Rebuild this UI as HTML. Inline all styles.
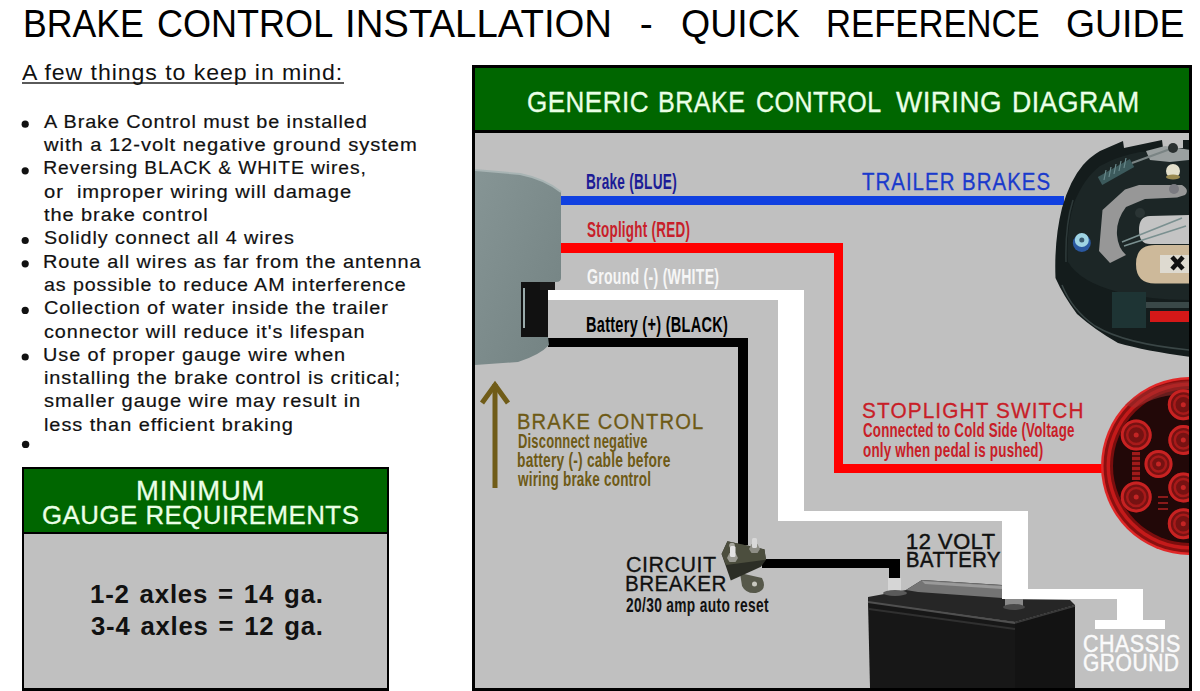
<!DOCTYPE html>
<html><head><meta charset="utf-8"><title>Brake Control Installation - Quick Reference Guide</title>
<style>
html,body{margin:0;padding:0;background:#fff;width:1200px;height:691px;overflow:hidden;position:relative}
.t{position:absolute;font-family:"Liberation Sans",sans-serif;line-height:1;white-space:pre;transform-origin:0 0}
svg{position:absolute;left:0;top:0}
</style></head><body>
<svg width="1200" height="691" viewBox="0 0 1200 691">
<defs>
<linearGradient id="dg" x1="0" y1="0" x2="1" y2="1"><stop offset="0" stop-color="#869595"/><stop offset="1" stop-color="#738282"/></linearGradient>
<clipPath id="pc"><rect x="475" y="133" width="714" height="555"/></clipPath>
</defs>
<!-- subtitle underline -->
<rect x="22" y="82" width="322" height="2" fill="#5a5a5a"/>
<!-- bullets -->
<g fill="#111">
<circle cx="25.2" cy="124.2" r="3.6"/>
<circle cx="25.2" cy="170.8" r="3.6"/>
<circle cx="25.2" cy="240.5" r="3.6"/>
<circle cx="25.2" cy="263.8" r="3.6"/>
<circle cx="25.2" cy="310.4" r="3.6"/>
<circle cx="25.2" cy="357" r="3.6"/>
<circle cx="25.6" cy="444.4" r="3.7"/>
</g>
<!-- gauge box -->
<rect x="22" y="467" width="367" height="224" fill="#000"/>
<rect x="24" y="469" width="363" height="63" fill="#006600"/>
<rect x="24" y="534" width="363" height="154" fill="#c0c0c0"/>
<!-- diagram panel -->
<rect x="472" y="65" width="720" height="626" fill="#000"/>
<rect x="475" y="68" width="714" height="62" fill="#006600"/>
<rect x="475" y="133" width="714" height="555" fill="#c0c0c0"/>
<g clip-path="url(#pc)">
<!-- wires -->
<rect x="561" y="196" width="503" height="9" fill="#1040e0"/>
<g fill="#ff0000">
<rect x="561" y="243" width="282" height="10"/>
<rect x="834" y="243" width="9" height="230"/>
<rect x="834" y="464" width="268" height="9"/>
</g>
<g fill="#ffffff">
<rect x="545" y="290" width="259" height="10"/>
<rect x="778" y="290" width="26" height="231"/>
<rect x="778" y="511" width="250" height="10"/>
<rect x="1002" y="511" width="26" height="88"/>
<rect x="1002" y="589" width="141" height="10"/>
<rect x="1117" y="589" width="26" height="32"/>
<rect x="1095" y="620" width="70" height="9"/>
</g>
<g fill="#000">
<rect x="548" y="338" width="200" height="9"/>
<rect x="738" y="338" width="10" height="207"/>
<rect x="762" y="559" width="138" height="9"/>
<rect x="889" y="559" width="11" height="21"/>
</g>
<!-- brake control device -->
<path d="M475,170 L520,174 Q545,179 561,192 L561,278 Q561,282 556,282 L521,282 L521,337 L548,337 L549,345 Q540,355 518,362 L475,365 Z" fill="url(#dg)"/>
<path d="M475,170 L520,174 Q545,179 561,192" fill="none" stroke="#a8b4b4" stroke-width="2"/>
<rect x="521" y="282" width="27" height="55" fill="#111"/>
<rect x="540" y="282" width="15" height="8" fill="#1a1a1a"/>
<rect x="523" y="288" width="2" height="40" fill="#9aa"/>
<!-- arrow -->
<g stroke="#705c18" stroke-width="5" fill="none">
<line x1="495" y1="384" x2="495" y2="488"/>
<polyline points="482,403 495,385 508,403" stroke-linejoin="miter"/>
</g>
<!-- circuit breaker -->
<g>
<path d="M740,573 L762,578 Q768,590 756,593 Q746,594 742,586 Z" fill="#56584a"/>
<circle cx="754.5" cy="584" r="2.5" fill="#c8c8c0"/>
<polygon points="721.6,553.9 727.4,541.2 764.4,549.3 766,559.7 761,566.7 730.8,580.5" fill="#2c2e26"/>
<polygon points="721.6,553.9 727.4,541.2 764.4,549.3 766,559.7 726,565" fill="#4c4e3e"/>
<circle cx="732" cy="545.5" r="2.8" fill="#a8a8a0"/>
<polygon points="727,558 729.5,553 735.5,553 738,558 735.5,562 729.5,562" fill="#9a9a92"/>
<rect x="730" y="546" width="5.5" height="11" rx="1.5" fill="#e2e2e2"/>
<polygon points="749,549 751.5,544 757.5,544 760,549 757.5,553 751.5,553" fill="#8e8e86"/>
<rect x="752" y="538" width="5" height="10" rx="1.5" fill="#d8d8d8"/>
</g>
<!-- battery -->
<g>
<polygon points="868,597 906,590 922,580 1002,585 1002,599 1070,600 1075,605 1015,622 868,602" fill="#262626"/>
<polygon points="868,602 1015,622 1015,688 870,688" fill="#171717"/>
<polygon points="1015,622 1075,605 1075,688 1015,688" fill="#131313"/>
<polygon points="906,590 922,580 1002,585 1002,598 918,592" fill="#747474"/>
<polygon points="922,581 1002,586 1002,589 925,584" fill="#9a9a9a"/>
<line x1="868" y1="602" x2="1015" y2="623" stroke="#505050" stroke-width="2"/>
<line x1="869" y1="609" x2="1015" y2="629" stroke="#303030" stroke-width="2"/>
<line x1="1015" y1="623" x2="1075" y2="606" stroke="#3a3a3a" stroke-width="1.5"/>
<rect x="888" y="578" width="13" height="14" fill="#d6d6d6"/>
<ellipse cx="895" cy="593" rx="12" ry="3" fill="#5a5a5a"/>
<rect x="1005" y="599" width="18" height="8" fill="#8a8a8a"/>
<ellipse cx="1014" cy="607" rx="11" ry="3" fill="#4a4a4a"/>
</g>
<!-- stoplight -->
<g>
<circle cx="1190" cy="466" r="89" fill="#e02828"/>
<circle cx="1190" cy="466" r="86.5" fill="#8a1010"/>
<circle cx="1190" cy="466" r="83.5" fill="#c41a1a"/>
<circle cx="1190" cy="466" r="80" fill="#7a0e0e"/>
<circle cx="1190" cy="466" r="77" fill="#220808"/>
<path d="M1125,405 Q1150,383 1190,381 L1190,394 Q1160,393 1135,408 Z" fill="#a03030" opacity="0.55"/>
<circle cx="1136.2" cy="435.1" r="15.5" fill="#761212"/>
<circle cx="1136.2" cy="435.1" r="14.0" fill="none" stroke="#c82222" stroke-width="3"/>
<circle cx="1136.2" cy="435.1" r="9.0" fill="none" stroke="#a81a1a" stroke-width="2.5"/>
<circle cx="1136.2" cy="435.1" r="2.5" fill="#c42424"/>
<circle cx="1158.5" cy="464" r="14" fill="#761212"/>
<circle cx="1158.5" cy="464" r="12.5" fill="none" stroke="#c82222" stroke-width="3"/>
<circle cx="1158.5" cy="464" r="7.5" fill="none" stroke="#a81a1a" stroke-width="2.5"/>
<circle cx="1158.5" cy="464" r="2.5" fill="#c42424"/>
<circle cx="1136.2" cy="496.9" r="15.5" fill="#761212"/>
<circle cx="1136.2" cy="496.9" r="14.0" fill="none" stroke="#c82222" stroke-width="3"/>
<circle cx="1136.2" cy="496.9" r="9.0" fill="none" stroke="#a81a1a" stroke-width="2.5"/>
<circle cx="1136.2" cy="496.9" r="2.5" fill="#c42424"/>
<circle cx="1183.3" cy="404.7" r="15.5" fill="#761212"/>
<circle cx="1183.3" cy="404.7" r="14.0" fill="none" stroke="#c82222" stroke-width="3"/>
<circle cx="1183.3" cy="404.7" r="9.0" fill="none" stroke="#a81a1a" stroke-width="2.5"/>
<circle cx="1183.3" cy="404.7" r="2.5" fill="#c42424"/>
<circle cx="1183.3" cy="440" r="15" fill="#761212"/>
<circle cx="1183.3" cy="440" r="13.5" fill="none" stroke="#c82222" stroke-width="3"/>
<circle cx="1183.3" cy="440" r="8.5" fill="none" stroke="#a81a1a" stroke-width="2.5"/>
<circle cx="1183.3" cy="440" r="2.5" fill="#c42424"/>
<circle cx="1183.3" cy="487.5" r="15" fill="#761212"/>
<circle cx="1183.3" cy="487.5" r="13.5" fill="none" stroke="#c82222" stroke-width="3"/>
<circle cx="1183.3" cy="487.5" r="8.5" fill="none" stroke="#a81a1a" stroke-width="2.5"/>
<circle cx="1183.3" cy="487.5" r="2.5" fill="#c42424"/>
<circle cx="1183.3" cy="523.7" r="15.5" fill="#761212"/>
<circle cx="1183.3" cy="523.7" r="14.0" fill="none" stroke="#c82222" stroke-width="3"/>
<circle cx="1183.3" cy="523.7" r="9.0" fill="none" stroke="#a81a1a" stroke-width="2.5"/>
<circle cx="1183.3" cy="523.7" r="2.5" fill="#c42424"/>
<rect x="1132" y="452" width="8" height="28" fill="#a01a1a"/>
<path d="M1132,456 H1140 M1132,461 H1140 M1132,466 H1140 M1132,471 H1140 M1132,476 H1140" stroke="#3a0808" stroke-width="1.5"/>
<path d="M1158,497 H1168 M1158,503 H1168 M1158,509 H1168" stroke="#8a1a1a" stroke-width="2"/>
</g>
<!-- brake drum -->
<g>
<path d="M1100,151 L1123,141 L1124,148 L1162,140 L1163,148 L1183,148 L1183,140 L1190,140 L1190,357 Q1146,351 1118,343 Q1095,330 1077,314 Q1063,295 1055.5,278 Q1054,240 1062,208 Q1070,180 1083,165 Q1090,157 1100,151 Z" fill="#141c1c"/>
<path d="M1068,262 Q1066,228 1074,203 Q1084,178 1100,166 Q1118,156 1140,152 L1190,150 L1190,300 Q1150,300 1118,292 Q1080,282 1068,262 Z" fill="#1c2626"/>
<path d="M1062,285 Q1072,310 1095,326 Q1125,344 1190,350" fill="none" stroke="#3a4646" stroke-width="1.5"/>
<path d="M1066,262 Q1065,225 1073,200" fill="none" stroke="#2e3a3a" stroke-width="1.5"/>
<rect x="1112" y="292" width="34" height="36" fill="#1e3434"/>
<rect x="1146" y="302" width="44" height="6" fill="#3a4848"/>
<rect x="1150" y="311" width="40" height="11" fill="#d41818"/>
<path d="M1146,151 L1165,146 L1190,150 L1190,160 L1170,162 L1150,160 Z" fill="#9aa0a0"/>
<path d="M1100,181 L1132,163" stroke="#3c5a5c" stroke-width="9"/>
<path d="M1104,180 L1106,170 M1109,177 L1111,167 M1114,174 L1116,164 M1119,171 L1121,161 M1124,168 L1126,158" stroke="#6a8a8c" stroke-width="1.2"/>
<path d="M1132,163 L1173,148" stroke="#7a8484" stroke-width="2"/>
<circle cx="1173" cy="148" r="5" fill="#2a3030"/>
<path d="M1102.5,210 L1125,189.5 L1139,185 L1182,185 Q1190,190 1185,195 L1177,197.5 L1145,199 L1126,207 Q1116,220 1117,235 Q1118,248 1126,255 L1110,263 L1099,251 Z" fill="#979797"/>
<circle cx="1174" cy="189" r="5" fill="#7a7a80"/>
<path d="M1150,216 L1190,215 L1190,244 L1150,244 Q1139,244 1139,230 Q1139,216 1150,216 Z" fill="#c4c4c4"/>
<path d="M1122,242 L1182,218 M1124,246 L1186,226" stroke="#7a9090" stroke-width="1.5"/>
<circle cx="1140" cy="213" r="5" fill="#2a3434"/>
<circle cx="1173" cy="171" r="7" fill="#e4e0cc"/>
<ellipse cx="1173" cy="177" rx="7" ry="2.5" fill="#9a8a50"/>
<path d="M1155,245 L1190,245 L1190,283.5 L1155,283.5 Q1136,283.5 1136,264 Q1136,245 1155,245 Z" fill="#cdb99a"/>
<rect x="1160" y="255" width="30" height="18" fill="#dedad0"/>
<path d="M1172,257 L1183,269 M1183,257 L1172,269" stroke="#111" stroke-width="4.5"/>
<circle cx="1081.8" cy="243" r="9" fill="#2a58a0"/>
<circle cx="1081.8" cy="240" r="7" fill="#9fd4e4"/>
<circle cx="1081.8" cy="240" r="2.5" fill="#3a5a70"/>
</g>
</g>
</g>
</svg>


<div class="t" style="left:23.18px;top:4.44px;font-size:39.130px;font-weight:normal;color:#000;transform:scaleX(0.9100);">BRAKE</div><div class="t" style="left:157.38px;top:4.44px;font-size:39.130px;font-weight:normal;color:#000;transform:scaleX(0.9211);">CONTROL</div><div class="t" style="left:345.36px;top:4.44px;font-size:39.130px;font-weight:normal;color:#000;transform:scaleX(0.9801);">INSTALLATION</div><div class="t" style="left:639.70px;top:4.44px;font-size:39.130px;font-weight:normal;color:#000;CAPH">-</div><div class="t" style="left:680.74px;top:4.44px;font-size:39.130px;font-weight:normal;color:#000;transform:scaleX(0.9593);">QUICK</div><div class="t" style="left:825.73px;top:4.44px;font-size:39.130px;font-weight:normal;color:#000;transform:scaleX(0.8857);">REFERENCE</div><div class="t" style="left:1065.74px;top:4.44px;font-size:39.130px;font-weight:normal;color:#000;transform:scaleX(0.9557);">GUIDE</div><div class="t" style="left:22.10px;top:61.73px;font-size:22.319px;font-weight:normal;color:#111;transform:scaleX(1.0364);letter-spacing:0.9px;">A few things to keep in mind:</div><div class="t" style="left:44.20px;top:111.82px;font-size:19.275px;font-weight:normal;color:#111;transform:scaleX(1.0290);-webkit-text-stroke:0.2px currentColor;letter-spacing:0.9px;">A Brake Control must be installed</div><div class="t" style="left:44.20px;top:135.12px;font-size:19.275px;font-weight:normal;color:#111;transform:scaleX(1.0478);-webkit-text-stroke:0.2px currentColor;letter-spacing:0.9px;">with a 12-volt negative ground system</div><div class="t" style="left:43.20px;top:158.42px;font-size:19.275px;font-weight:normal;color:#111;-webkit-text-stroke:0.2px currentColor;letter-spacing:0.9px;">Reversing BLACK &amp; WHITE wires,</div><div class="t" style="left:44.20px;top:181.72px;font-size:19.275px;font-weight:normal;color:#111;transform:scaleX(1.0459);-webkit-text-stroke:0.2px currentColor;letter-spacing:0.9px;">or  improper wiring will damage</div><div class="t" style="left:44.20px;top:205.02px;font-size:19.275px;font-weight:normal;color:#111;transform:scaleX(1.0367);-webkit-text-stroke:0.2px currentColor;letter-spacing:0.9px;">the brake control</div><div class="t" style="left:44.20px;top:228.32px;font-size:19.275px;font-weight:normal;color:#111;transform:scaleX(1.0238);-webkit-text-stroke:0.2px currentColor;letter-spacing:0.9px;">Solidly connect all 4 wires</div><div class="t" style="left:43.17px;top:251.62px;font-size:19.275px;font-weight:normal;color:#111;transform:scaleX(1.0340);-webkit-text-stroke:0.2px currentColor;letter-spacing:0.9px;">Route all wires as far from the antenna</div><div class="t" style="left:44.20px;top:274.92px;font-size:19.275px;font-weight:normal;color:#111;transform:scaleX(1.0192);-webkit-text-stroke:0.2px currentColor;letter-spacing:0.9px;">as possible to reduce AM interference</div><div class="t" style="left:44.20px;top:298.22px;font-size:19.275px;font-weight:normal;color:#111;transform:scaleX(1.0323);-webkit-text-stroke:0.2px currentColor;letter-spacing:0.9px;">Collection of water inside the trailer</div><div class="t" style="left:44.20px;top:321.52px;font-size:19.275px;font-weight:normal;color:#111;transform:scaleX(1.0283);-webkit-text-stroke:0.2px currentColor;letter-spacing:0.9px;">connector will reduce it&#x27;s lifespan</div><div class="t" style="left:43.17px;top:344.82px;font-size:19.275px;font-weight:normal;color:#111;transform:scaleX(1.0315);-webkit-text-stroke:0.2px currentColor;letter-spacing:0.9px;">Use of proper gauge wire when</div><div class="t" style="left:44.20px;top:368.12px;font-size:19.275px;font-weight:normal;color:#111;transform:scaleX(1.0337);-webkit-text-stroke:0.2px currentColor;letter-spacing:0.9px;">installing the brake control is critical;</div><div class="t" style="left:44.20px;top:391.42px;font-size:19.275px;font-weight:normal;color:#111;transform:scaleX(1.0398);-webkit-text-stroke:0.2px currentColor;letter-spacing:0.9px;">smaller gauge wire may result in</div><div class="t" style="left:44.20px;top:414.72px;font-size:19.275px;font-weight:normal;color:#111;transform:scaleX(1.0346);-webkit-text-stroke:0.2px currentColor;letter-spacing:0.9px;">less than efficient braking</div><div class="t" style="left:136.10px;top:477.11px;font-size:27.464px;font-weight:normal;color:#eaffe6;-webkit-text-stroke:0.3px currentColor;letter-spacing:0.8px;">MINIMUM</div><div class="t" style="left:41.78px;top:501.83px;font-size:26.667px;font-weight:normal;color:#eaffe6;transform:scaleX(0.9692);-webkit-text-stroke:0.3px currentColor;letter-spacing:0.5px;">GAUGE REQUIREMENTS</div><div class="t" style="left:90.33px;top:580.96px;font-size:26.522px;font-weight:bold;color:#111;transform:scaleX(0.9747);letter-spacing:0.8px;word-spacing:2px;">1-2 axles = 14 ga.</div><div class="t" style="left:90.80px;top:612.53px;font-size:26.087px;font-weight:bold;color:#111;transform:scaleX(0.9851);letter-spacing:0.8px;word-spacing:2px;">3-4 axles = 12 ga.</div><div class="t" style="left:526.60px;top:87.76px;font-size:28.986px;font-weight:normal;color:#eaffe6;transform:scaleX(0.9000);-webkit-text-stroke:0.3px currentColor;letter-spacing:0.5px;">GENERIC</div><div class="t" style="left:658.33px;top:87.76px;font-size:28.986px;font-weight:normal;color:#eaffe6;transform:scaleX(0.8687);-webkit-text-stroke:0.3px currentColor;letter-spacing:0.5px;">BRAKE</div><div class="t" style="left:756.43px;top:87.76px;font-size:28.986px;font-weight:normal;color:#eaffe6;transform:scaleX(0.8653);-webkit-text-stroke:0.3px currentColor;letter-spacing:0.5px;">CONTROL</div><div class="t" style="left:896.00px;top:87.76px;font-size:28.986px;font-weight:normal;color:#eaffe6;transform:scaleX(0.9578);-webkit-text-stroke:0.3px currentColor;letter-spacing:0.5px;">WIRING</div><div class="t" style="left:1011.68px;top:87.76px;font-size:28.986px;font-weight:normal;color:#eaffe6;transform:scaleX(0.9206);-webkit-text-stroke:0.3px currentColor;letter-spacing:0.5px;">DIAGRAM</div><div class="t" style="left:586.06px;top:171.59px;font-size:21.304px;font-weight:bold;color:#1c1c96;transform:scaleX(0.6400);letter-spacing:0.4px;">Brake (BLUE)</div><div class="t" style="left:586.70px;top:219.01px;font-size:21.159px;font-weight:bold;color:#c81e2a;transform:scaleX(0.6358);letter-spacing:0.4px;">Stoplight (RED)</div><div class="t" style="left:586.70px;top:267.29px;font-size:21.304px;font-weight:bold;color:#f6f6f6;transform:scaleX(0.6613);letter-spacing:0.4px;">Ground (-) (WHITE)</div><div class="t" style="left:586.01px;top:314.01px;font-size:21.159px;font-weight:bold;color:#000;transform:scaleX(0.6878);letter-spacing:0.4px;">Battery (+) (BLACK)</div><div class="t" style="left:861.90px;top:169.67px;font-size:23.913px;font-weight:normal;color:#1a3acc;transform:scaleX(0.8541);-webkit-text-stroke:0.3px currentColor;letter-spacing:1.2px;">TRAILER BRAKES</div><div class="t" style="left:517.05px;top:411.31px;font-size:21.159px;font-weight:normal;color:#6e5a16;transform:scaleX(0.9536);-webkit-text-stroke:0.3px currentColor;letter-spacing:1.2px;">BRAKE CONTROL</div><div class="t" style="left:518.00px;top:430.98px;font-size:20.145px;font-weight:bold;color:#6e5a16;transform:scaleX(0.6438);letter-spacing:0.3px;">Disconnect negative</div><div class="t" style="left:517.32px;top:449.95px;font-size:20.290px;font-weight:bold;color:#6e5a16;transform:scaleX(0.6800);letter-spacing:0.3px;">battery (-) cable before</div><div class="t" style="left:518.00px;top:469.05px;font-size:20.290px;font-weight:bold;color:#6e5a16;transform:scaleX(0.6663);letter-spacing:0.3px;">wiring brake control</div><div class="t" style="left:861.98px;top:399.58px;font-size:22.609px;font-weight:normal;color:#c81e28;transform:scaleX(0.9205);-webkit-text-stroke:0.3px currentColor;letter-spacing:1.2px;">STOPLIGHT SWITCH</div><div class="t" style="left:862.90px;top:419.71px;font-size:20.580px;font-weight:bold;color:#c81e28;transform:scaleX(0.6475);letter-spacing:0.3px;">Connected to Cold Side (Voltage</div><div class="t" style="left:862.90px;top:440.00px;font-size:20.000px;font-weight:bold;color:#c81e28;transform:scaleX(0.6709);letter-spacing:0.3px;">only when pedal is pushed)</div><div class="t" style="left:625.60px;top:554.24px;font-size:21.594px;font-weight:normal;color:#111;transform:scaleX(0.9967);-webkit-text-stroke:0.3px currentColor;letter-spacing:0.5px;">CIRCUIT</div><div class="t" style="left:624.64px;top:574.17px;font-size:21.449px;font-weight:normal;color:#111;transform:scaleX(0.9606);-webkit-text-stroke:0.3px currentColor;letter-spacing:0.5px;">BREAKER</div><div class="t" style="left:625.60px;top:595.55px;font-size:19.710px;font-weight:bold;color:#111;transform:scaleX(0.6980);letter-spacing:0.5px;">20/30 amp auto reset</div><div class="t" style="left:905.84px;top:529.56px;font-size:22.754px;font-weight:normal;color:#111;transform:scaleX(0.9587);-webkit-text-stroke:0.5px currentColor;letter-spacing:0.6px;">12 VOLT</div><div class="t" style="left:905.89px;top:549.35px;font-size:22.174px;font-weight:normal;color:#111;transform:scaleX(0.9097);-webkit-text-stroke:0.5px currentColor;letter-spacing:0.6px;">BATTERY</div><div class="t" style="left:1082.50px;top:632.99px;font-size:23.188px;font-weight:normal;color:#fafafa;transform:scaleX(0.9238);-webkit-text-stroke:0.5px currentColor;letter-spacing:0.6px;">CHASSIS</div><div class="t" style="left:1083.00px;top:652.49px;font-size:23.188px;font-weight:normal;color:#fafafa;transform:scaleX(0.9057);-webkit-text-stroke:0.5px currentColor;letter-spacing:0.6px;">GROUND</div>
</body></html>
